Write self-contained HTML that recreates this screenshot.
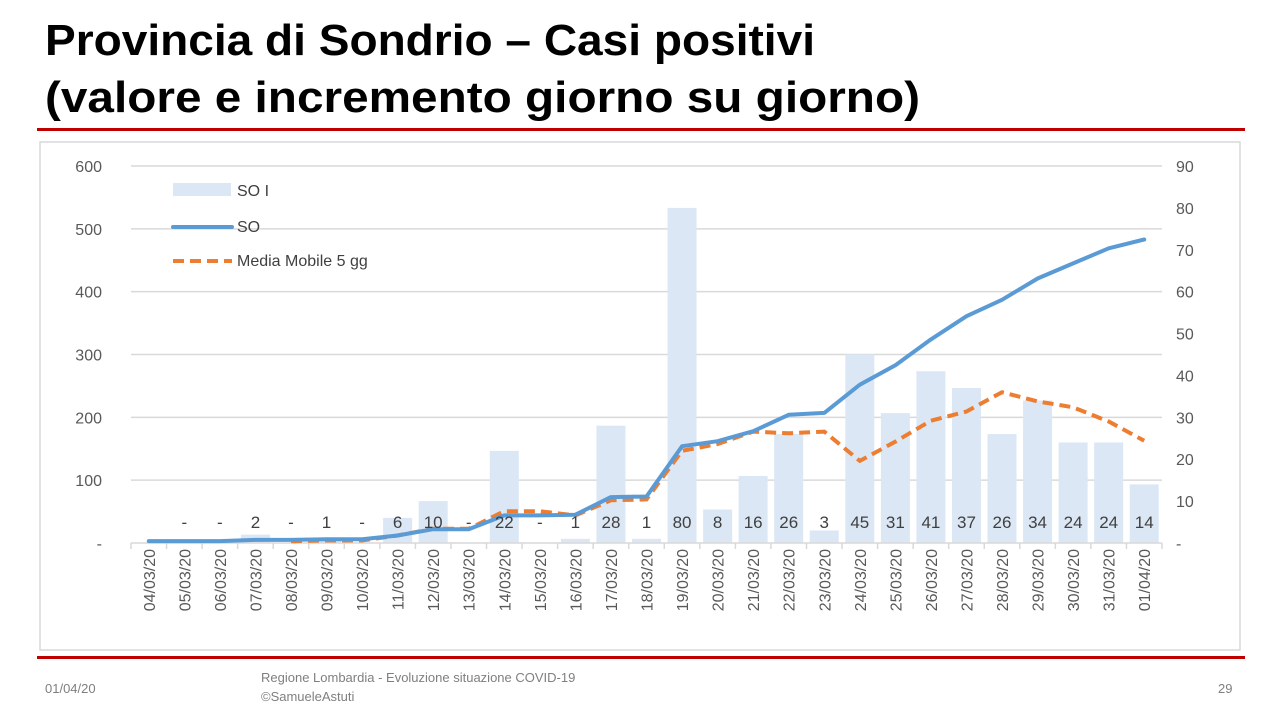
<!DOCTYPE html>
<html><head><meta charset="utf-8"><style>
body{margin:0;width:1280px;height:720px;background:#fff;overflow:hidden;font-family:"Liberation Sans",sans-serif;}
</style></head><body>
<svg id="s" width="1280" height="720" xmlns="http://www.w3.org/2000/svg" font-family="Liberation Sans, sans-serif">
<text x="45" y="55" font-size="44" font-weight="bold" fill="#000" textLength="770" lengthAdjust="spacingAndGlyphs">Provincia di Sondrio – Casi positivi</text>
<text x="45" y="112" font-size="44" font-weight="bold" fill="#000" textLength="875" lengthAdjust="spacingAndGlyphs">(valore e incremento giorno su giorno)</text>
<rect x="37" y="128" width="1208" height="3" fill="#c00000"/>
<rect x="40" y="142" width="1200" height="508" fill="none" stroke="#d9d9d9" stroke-width="1.5"/>
<rect x="37" y="656" width="1208" height="3" fill="#c00000"/>
<text x="45" y="693" font-size="13" fill="#7f7f7f">01/04/20</text>
<text x="261" y="682" font-size="13" fill="#7f7f7f">Regione Lombardia - Evoluzione situazione COVID-19</text>
<text x="261" y="701" font-size="13" fill="#7f7f7f">©SamueleAstuti</text>
<text x="1218" y="693" font-size="13" fill="#7f7f7f">29</text>
<g id="g"></g>
</svg>
<script>
var inc=[0,0,0,2,0,1,0,6,10,0,22,0,1,28,1,80,8,16,26,3,45,31,41,37,26,34,24,24,14];
var L=131,R=1162,n=29,w=(R-L)/n,y0=543;
var yl=function(v){return y0-v*377/600},yr=function(v){return y0-v*377/90};
var h='';
for(var k=0;k<=6;k++){var y=yl(k*100);
 if(k>0)h+='<line x1="'+L+'" x2="'+R+'" y1="'+y+'" y2="'+y+'" stroke="#d9d9d9" stroke-width="1.5"/>';
 h+='<text x="102" y="'+(y+6)+'" font-size="16" fill="#595959" text-anchor="end">'+(k?k*100:'-')+'</text>';}
for(var k=0;k<=9;k++){var y=yr(k*10);
 h+='<text x="1176" y="'+(y+6)+'" font-size="16" fill="#595959">'+(k?k*10:'-')+'</text>';}
var cum=[],c=3;
for(var i=0;i<n;i++){c+=inc[i];cum.push(c);}
for(var i=0;i<n;i++){var cx=L+(i+0.5)*w;
 if(inc[i]>0)h+='<rect x="'+(cx-14.5)+'" y="'+yr(inc[i])+'" width="29" height="'+(y0-yr(inc[i]))+'" fill="#dbe7f5"/>';}
h+='<line x1="'+L+'" x2="'+R+'" y1="'+y0+'" y2="'+y0+'" stroke="#d9d9d9" stroke-width="1.5"/>';
for(var i=0;i<=n;i++){var x=L+i*w;h+='<line x1="'+x+'" x2="'+x+'" y1="'+y0+'" y2="'+(y0+6)+'" stroke="#d9d9d9" stroke-width="1.5"/>';}
var p1='',p2='';
for(var i=0;i<n;i++){var cx=L+(i+0.5)*w;
 p1+=(i?'L':'M')+cx.toFixed(1)+' '+yl(cum[i]).toFixed(1);
 if(i>=4){var s=0;for(var j=i-4;j<=i;j++)s+=inc[j];p2+=(i>4?'L':'M')+cx.toFixed(1)+' '+yr(s/5).toFixed(1);}
}
h+='<path d="'+p2+'" fill="none" stroke="#ed7d31" stroke-width="4" stroke-dasharray="11 6"/>';
h+='<path d="'+p1+'" fill="none" stroke="#5b9bd5" stroke-width="4" stroke-linejoin="round" stroke-linecap="round"/>';
var d=['04','05','06','07','08','09','10','11','12','13','14','15','16','17','18','19','20','21','22','23','24','25','26','27','28','29','30','31','01'];
for(var i=0;i<n;i++){var cx=L+(i+0.5)*w;
 if(i>0)h+='<text x="'+cx+'" y="528" font-size="17" fill="#404040" text-anchor="middle">'+(inc[i]?inc[i]:'-')+'</text>';
 var lab=d[i]+(i==28?'/04/20':'/03/20');
 h+='<text transform="translate('+(cx+6)+',549) rotate(-90)" font-size="16" fill="#595959" text-anchor="end">'+lab+'</text>';}
h+='<rect x="173" y="183" width="58" height="13" fill="#dbe7f5"/><text x="237" y="196" font-size="16" fill="#404040">SO I</text>';
h+='<line x1="173" x2="232" y1="227" y2="227" stroke="#5b9bd5" stroke-width="4" stroke-linecap="round"/><text x="237" y="232" font-size="16" fill="#404040">SO</text>';
h+='<line x1="173" x2="232" y1="261" y2="261" stroke="#ed7d31" stroke-width="4" stroke-dasharray="11 6"/><text x="237" y="266" font-size="16" fill="#404040">Media Mobile 5 gg</text>';
document.getElementById('g').innerHTML=h;
</script>
</body></html>
